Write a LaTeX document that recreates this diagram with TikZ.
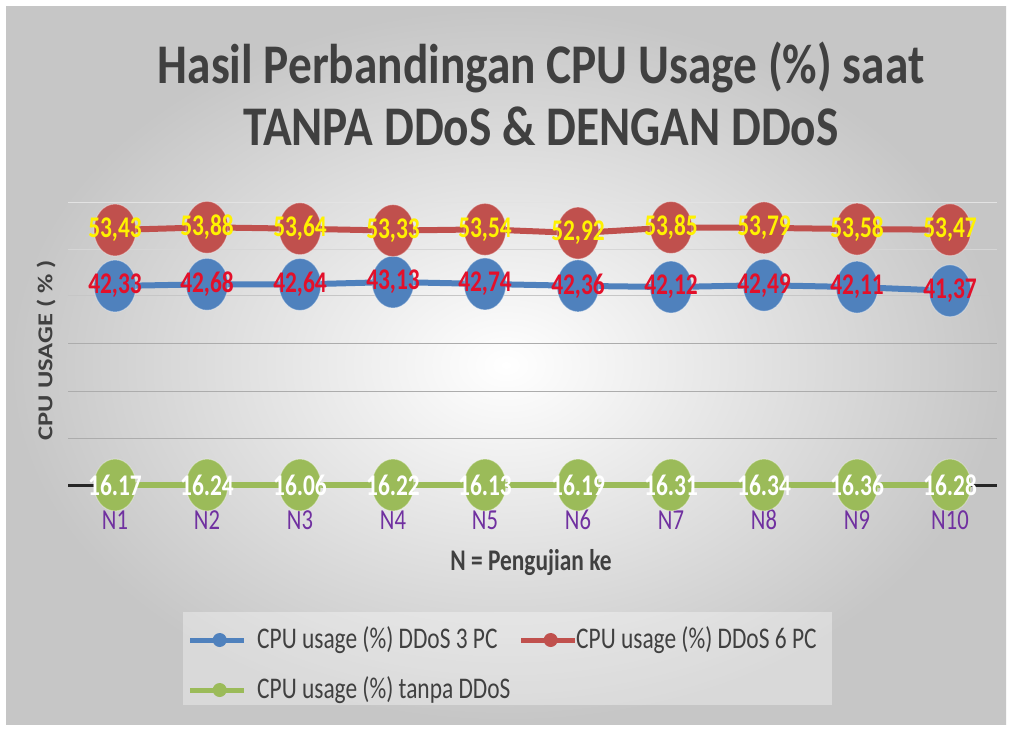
\documentclass[tikz,border=0pt]{standalone}
\usepackage{fontspec}
\setmainfont{Carlito}[FakeStretch=0.78]
\newfontfamily\titlefont{Carlito}[FakeStretch=0.845]
\newfontfamily\plainfont{Carlito}
\usetikzlibrary{shapes.geometric,calc}
\definecolor{serR}{HTML}{C0504D}
\definecolor{serB}{HTML}{4F81BD}
\definecolor{serG}{HTML}{9BBB59}
\definecolor{txtgray}{HTML}{404040}
\definecolor{tickpurple}{HTML}{7030A0}
\definecolor{valred}{HTML}{E3102A}
\tikzset{
  series/.style={line width=6pt},
  dot/.style={ellipse, minimum width=42pt, minimum height=52pt, inner sep=0pt, draw=white, draw opacity=0.35, line width=1pt},
  val/.style={font=\bfseries\fontsize{30}{30}\selectfont, inner sep=0pt},
  tick/.style={font=\fontsize{29}{29}\selectfont, text=tickpurple},
  grid/.style={line width=1pt},
  legtxt/.style={font=\fontsize{30}{30}\selectfont, text=txtgray, anchor=west, inner sep=0pt},
  legdot/.style={circle, minimum size=14pt, inner sep=0pt}
}
\begin{document}
\begin{tikzpicture}[x=1pt,y=-1pt]
  % page and shaded chart area
  \useasboundingbox (0,0) rectangle (1012,729);
  \fill[white] (0,0) rectangle (1012,729);
  \shade[inner color=white, outer color=gray!45] (6,6) rectangle (1006,724);

  % title
  \node[font=\titlefont\bfseries\fontsize{56}{62}\selectfont, text=txtgray, align=center] (title) at (541,94)
    {Hasil Perbandingan CPU Usage (\%) saat\\TANPA DDoS \& DENGAN DDoS};

  % horizontal grid lines
  \draw[grid, gray!22] (68,202) -- (997,202);
  \draw[grid, gray!32] (68,249) -- (997,249);
  \draw[grid, gray!45] (68,295) -- (997,295);
  \draw[grid, gray!65] (68,343) -- (997,343);
  \draw[grid, gray!65] (68,391) -- (997,391);
  \draw[grid, gray!65] (68,438) -- (997,438);
  % category axis
  \draw[line width=3pt, black!85] (68,485) -- (997,485);

  % axis titles
  \node[rotate=90, text=txtgray] (ytitle) at (46,350)
    {\scalebox{1}[0.8]{\plainfont\bfseries\fontsize{26.5}{26.5}\selectfont CPU USAGE ( \% )}};
  \node[font=\bfseries\fontsize{30}{30}\selectfont, text=txtgray] (xtitle) at (531,563) {N = Pengujian ke};

  % data points: index/x, DDoS 6 PC, DDoS 3 PC
  \foreach \i/\x/\r/\b in {
      1/115/53.43/42.33, 2/207/53.88/42.68, 3/300/53.64/42.64,
      4/393/53.33/43.13, 5/485/53.54/42.74, 6/578/52.92/42.36,
      7/671/53.85/42.12, 8/764/53.79/42.49, 9/857/53.58/42.11,
      10/950/53.47/41.37} {
    \pgfmathsetmacro{\yr}{230-(\r-53.43)*6}
    \pgfmathsetmacro{\yb}{286-(\b-42.33)*5}
    \coordinate (r\i) at (\x,\yr);
    \coordinate (b\i) at (\x,\yb);
    \coordinate (g\i) at (\x,485);
    \node[tick] (n\i) at (\x,520) {N\i};
  }

  % series lines
  \foreach \i [evaluate=\i as \j using int(\i+1)] in {1,...,9} {
    \draw[series, serR] (r\i) -- (r\j);
    \draw[series, serB] (b\i) -- (b\j);
    \draw[series, serG] (g\i) -- (g\j);
  }

  % markers with value labels
  \foreach \i/\r/\b/\g in {
      1/{53,43}/{42,33}/16.17, 2/{53,88}/{42,68}/16.24, 3/{53,64}/{42,64}/16.06,
      4/{53,33}/{43,13}/16.22, 5/{53,54}/{42,74}/16.13, 6/{52,92}/{42,36}/16.19,
      7/{53,85}/{42,12}/16.31, 8/{53,79}/{42,49}/16.34, 9/{53,58}/{42,11}/16.36,
      10/{53,47}/{41,37}/16.28} {
    \node[dot, fill=serB] (B\i) at (b\i) {};
    \node[dot, fill=serR] (R\i) at (r\i) {};
    \node[dot, fill=serG] (G\i) at (g\i) {};
    \node[val, text=yellow] (vr\i) at (R\i) {\r};
    \node[val, text=valred] (vb\i) at (B\i) {\b};
    \node[val, text=white] (vg\i) at (G\i) {\g};
  }

  % legend
  \fill[white, opacity=0.35] (183,612) rectangle (832,705);
  \coordinate (la1) at (190,640); \coordinate (lb1) at (244,640);
  \coordinate (la2) at (521,640); \coordinate (lb2) at (575,640);
  \coordinate (la3) at (190,690); \coordinate (lb3) at (244,690);
  \draw[line width=5pt, serB] (la1) -- (lb1);
  \node[legdot, fill=serB] (ld1) at ($(la1)!0.55!(lb1)$) {};
  \draw[line width=5pt, serR] (la2) -- (lb2);
  \node[legdot, fill=serR] (ld2) at ($(la2)!0.55!(lb2)$) {};
  \draw[line width=5pt, serG] (la3) -- (lb3);
  \node[legdot, fill=serG] (ld3) at ($(la3)!0.55!(lb3)$) {};
  \node[legtxt] (lt1) at (257,640) {CPU usage (\%) DDoS 3 PC};
  \node[legtxt] (lt2) at (576,640) {CPU usage (\%) DDoS 6 PC};
  \node[legtxt] (lt3) at (257,690) {CPU usage (\%) tanpa DDoS};
\end{tikzpicture}
\end{document}
